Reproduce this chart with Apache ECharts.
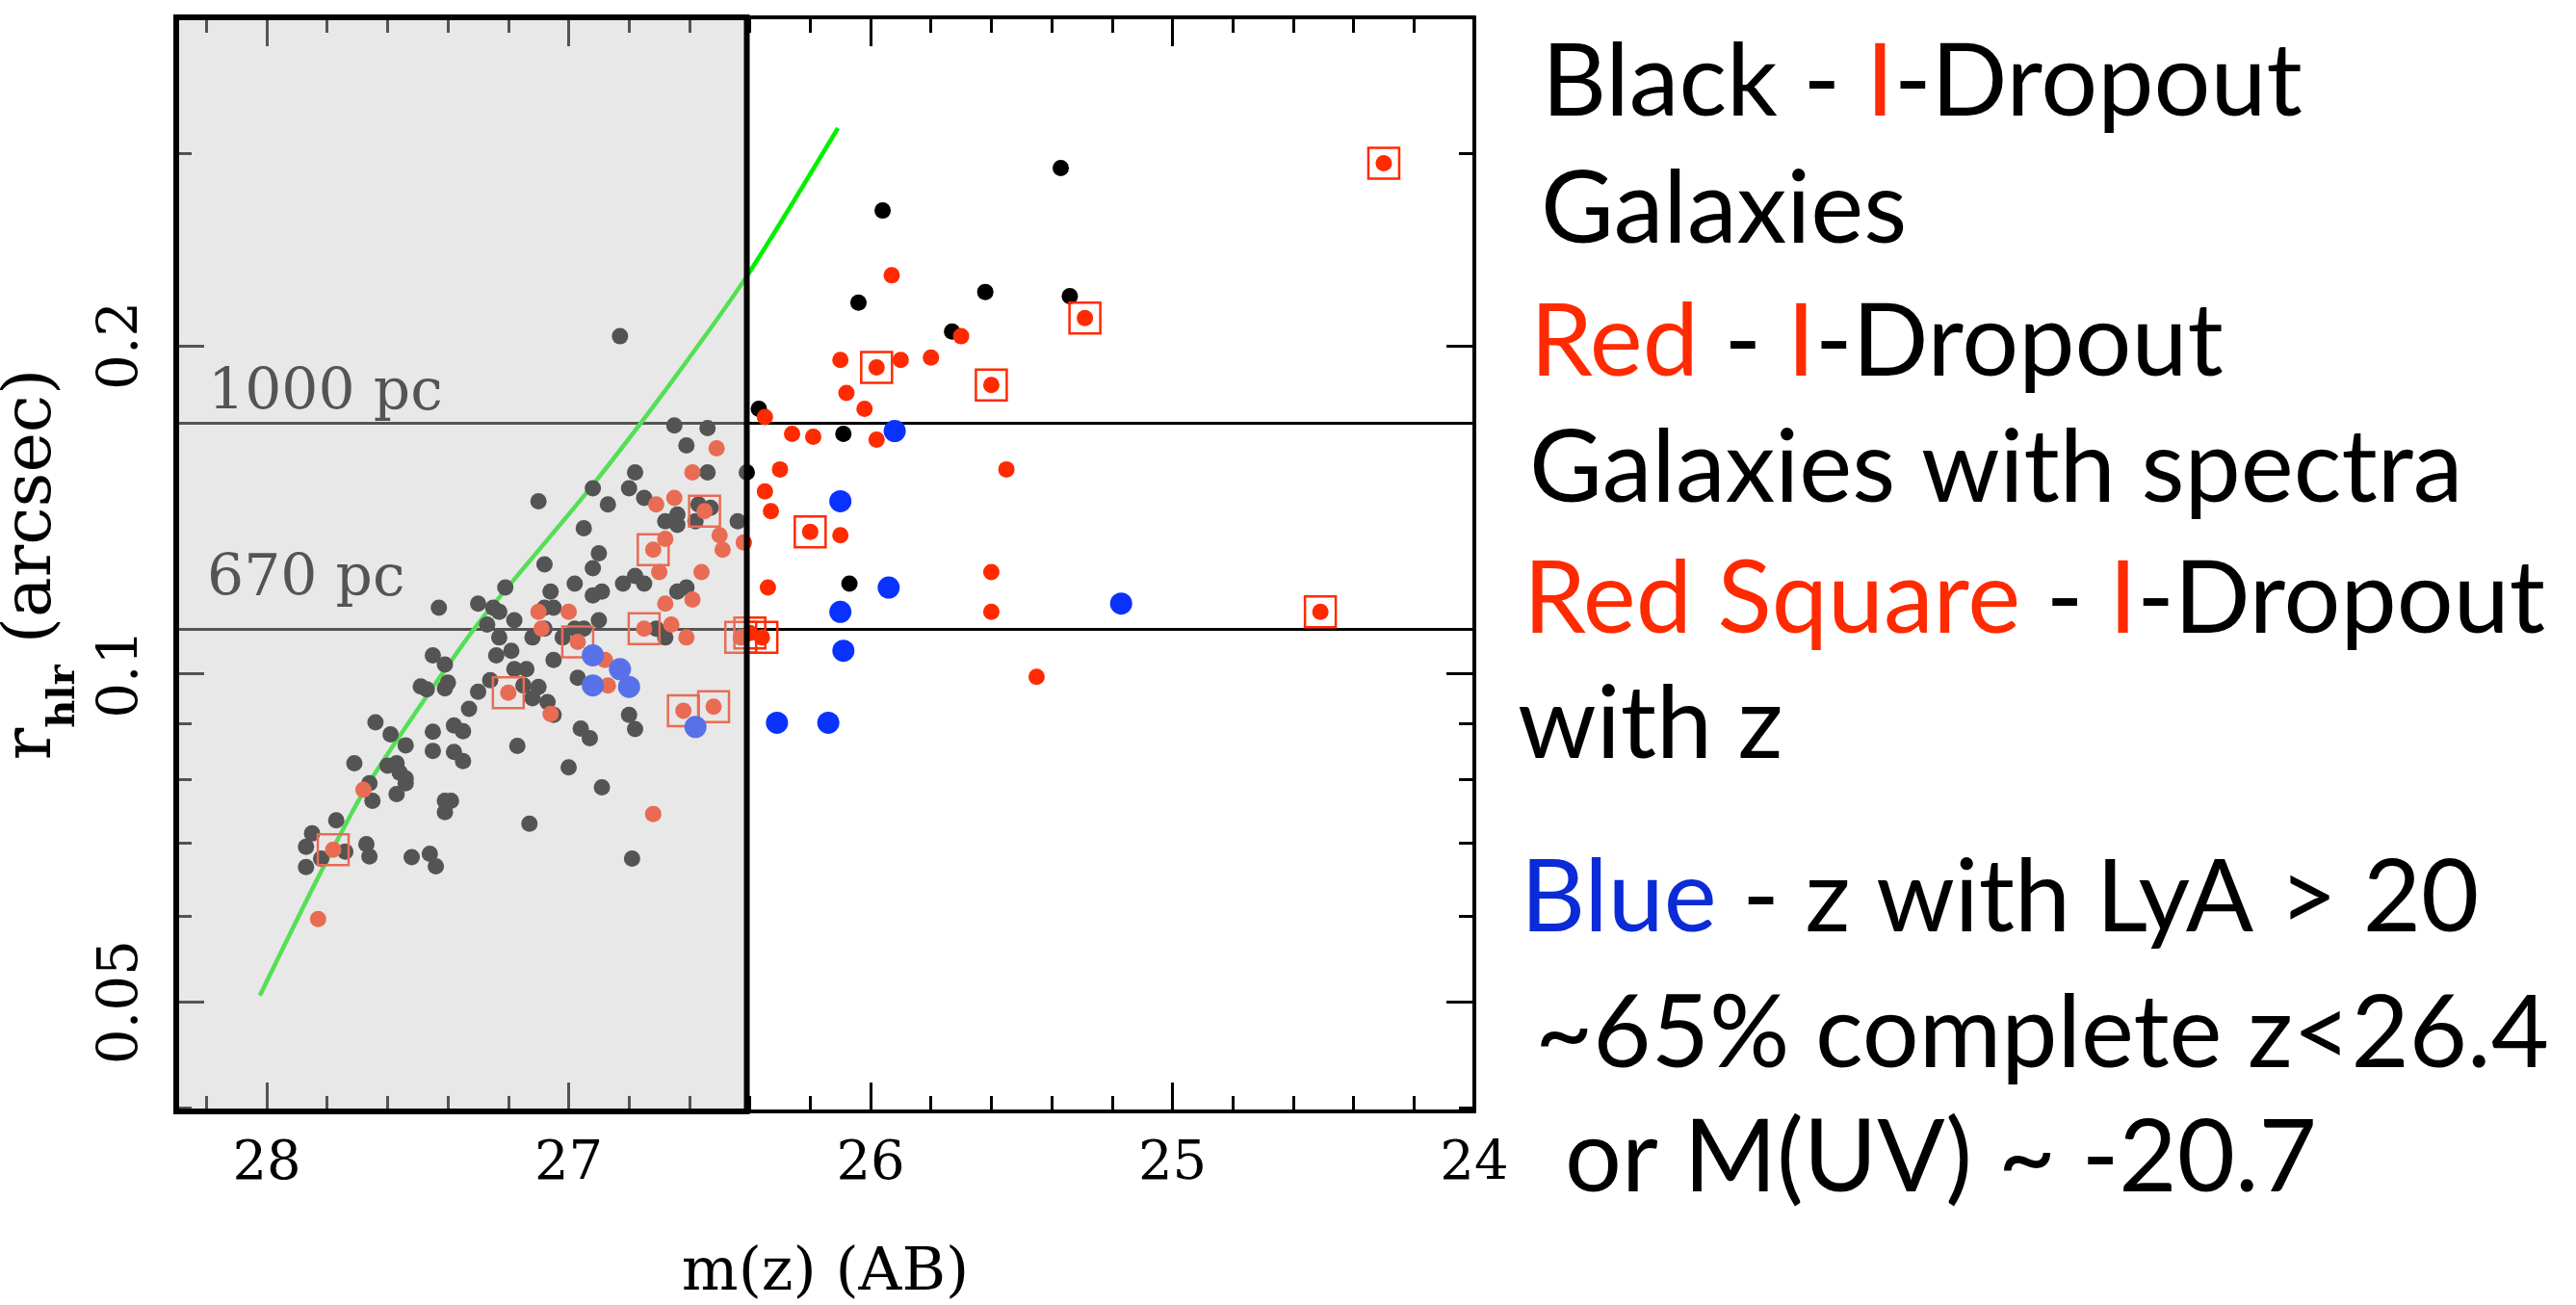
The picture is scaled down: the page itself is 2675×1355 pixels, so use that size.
<!DOCTYPE html>
<html>
<head>
<meta charset="utf-8">
<script src="https://cdn.jsdelivr.net/npm/echarts@6/dist/echarts.min.js"></script>
<style>
html,body{margin:0;padding:0;background:#fff;}
#chart{width:2675px;height:1355px;}
</style>
</head>
<body>
<div id="chart"></div>
<script>
// ---------------- data ----------------
const xMajorTicks = [24, 25, 26, 27, 28];
const xMinorTicks = [24.2, 24.4, 24.6, 24.8, 25.2, 25.4, 25.6, 25.8, 26.2, 26.4, 26.6, 26.8, 27.2, 27.4, 27.6, 27.8, 28.2];
const yMajorTicks = [0.05, 0.1, 0.2];
const yMinorTicks = [0.04, 0.06, 0.07, 0.08, 0.09, 0.3];
const xRange = [24, 28.3];
const yRange = [0.0397, 0.4];

// m(z), r_hlr  -- I-dropouts (black)
const blackPts = [
  [26.65,0.169],[26.54,0.168],[26.61,0.162],[26.78,0.153],[26.54,0.153],[26.41,0.153],[26.92,0.148],[26.80,0.148],
  [27.10,0.144],[26.75,0.145],[26.87,0.143],[26.57,0.143],[26.53,0.142],[26.64,0.140],[26.68,0.138],[26.64,0.137],
  [26.58,0.138],[26.44,0.138],[26.95,0.136],[26.90,0.129],[26.92,0.125],[27.08,0.126],[26.78,0.123],[26.75,0.121],
  [26.82,0.121],[26.98,0.121],[26.92,0.118],[26.89,0.119],[27.06,0.119],[27.21,0.120],[26.61,0.120],[26.64,0.119],
  [27.30,0.116],[27.25,0.115],[27.23,0.114],[27.05,0.115],[27.08,0.115],[27.18,0.112],[27.27,0.111],[26.90,0.112],
  [26.95,0.110],[26.98,0.110],[26.71,0.110],[26.68,0.108],[27.08,0.110],[27.23,0.108],[27.12,0.108],[27.02,0.108],
  [27.19,0.105],[27.24,0.104],[27.05,0.103],[27.18,0.101],[27.14,0.101],[27.26,0.0987],[26.97,0.0992],[27.30,0.0963],
  [27.10,0.0973],[27.15,0.0976],
  [27.43,0.115],[27.45,0.104],[27.41,0.102],[27.49,0.0974],[27.47,0.0968],[27.41,0.0970],[27.40,0.0982],
  [27.33,0.0929],[27.12,0.0950],[27.07,0.0942],[27.05,0.0917],[26.80,0.0917],[26.78,0.0890],[26.96,0.0891],[26.93,0.0873],
  [27.35,0.0886],[27.17,0.0859],[27.35,0.0832],[27.00,0.0821],[26.89,0.0787],[27.13,0.0729],[26.79,0.0677],
  [27.64,0.0903],[27.59,0.0880],[27.54,0.0860],[27.45,0.0885],[27.38,0.0897],[27.45,0.0850],[27.38,0.0848],[27.71,0.0828],
  [27.60,0.0824],[27.57,0.0828],[27.56,0.0812],[27.54,0.0802],[27.54,0.0794],[27.66,0.0794],[27.65,0.0765],[27.57,0.0776],
  [27.41,0.0765],[27.39,0.0765],[27.41,0.0747],[27.77,0.0734],[27.85,0.0714],[27.87,0.0694],[27.74,0.0687],[27.82,0.0677],
  [27.87,0.0665],[27.67,0.0698],[27.66,0.0680],[27.52,0.0679],[27.46,0.0684],[27.44,0.0666],
  [26.83,0.204],
  [25.37,0.291],[25.96,0.266],[26.04,0.219],[25.62,0.224],[25.34,0.222],[25.73,0.206],[26.37,0.175],[26.09,0.166],[26.07,0.121]
];

// I-dropouts with spectra (red)
const redPts = [
  [26.51,0.161],[26.59,0.153],[26.71,0.143],[26.65,0.145],[26.68,0.133],[26.50,0.134],[26.49,0.130],[26.42,0.132],
  [26.70,0.124],[26.56,0.124],[26.68,0.116],[26.59,0.117],[27.10,0.114],[27.00,0.114],[27.09,0.110],[26.66,0.111],
  [26.61,0.108],[26.88,0.103],[26.87,0.0976],[27.06,0.0919],[26.72,0.0744],[27.68,0.0783],[27.83,0.0596],
  [25.93,0.232],[25.70,0.204],[26.10,0.194],[25.90,0.194],[25.80,0.195],[26.08,0.181],[26.02,0.175],[26.35,0.172],
  [26.26,0.166],[26.19,0.165],[25.98,0.164],[26.30,0.154],[25.55,0.154],[26.35,0.147],[26.33,0.141],[26.10,0.134],
  [26.34,0.120],[25.60,0.124],[25.60,0.114],[25.45,0.0994]
];

// I-dropouts with z (red square)
const redSquarePts = [
  [25.29,0.212],[25.98,0.191],[25.60,0.184],[26.20,0.135],[24.30,0.294],[24.51,0.114],[26.36,0.108],[26.40,0.109],
  [26.55,0.141],[26.72,0.130],[26.75,0.110],[26.97,0.107],[27.20,0.0961],[26.62,0.0925],[26.52,0.0933],[27.78,0.0690],[26.43,0.108]
];

// z with LyA > 20 (blue)
const bluePts = [
  [26.92,0.104],[26.83,0.101],[26.92,0.0976],[26.80,0.0973],[26.58,0.0894],
  [25.92,0.167],[26.10,0.144],[25.94,0.120],[26.10,0.114],[26.09,0.105],[25.17,0.116],[26.31,0.0902],[26.14,0.0902]
];

// green size relation curve
const sizeCurve = [
  [28.023,0.0507],[27.832,0.0649],[27.672,0.0786],[27.459,0.0964],[27.289,0.1122],
  [26.928,0.1481],[26.667,0.1840],[26.408,0.2320],[26.108,0.3166]
];

const refLineValues = [0.17, 0.11];
const refLineLabels = ['1000 pc', '670 pc'];
const completeLimit = 26.41;

const legendTexts = [
  'Black - {red|I}-Dropout',
  'Galaxies',
  '{red|Red} - {red|I}-Dropout',
  'Galaxies with spectra',
  '{red|Red Square} - {red|I}-Dropout',
  'with z',
  '{blue|Blue} - z with LyA > 20',
  '~65% complete z<26.4',
  'or M(UV) ~ -20.7'
];

// ---------------- layout / style ----------------
const legendPos = [[1601,86],[1600,218],[1589,356],[1588,487],[1582,623],[1576,753],[1579,933],[1594,1074],[1625,1203]];
const refLabelPos = [[216,409],[215,602]];
const AX_FONT = 'DejaVu Serif';
const RED = '#ff2a00', BLUE = '#0a32ff', TXT_BLUE = '#0b2bd6';

const chart = echarts.init(document.getElementById('chart'), null, {renderer: 'canvas', width: 2675, height: 1355});

function xAxisDef(pos, ticks, len, showLabel, extra) {
  return Object.assign({
    type: 'value', position: pos, inverse: true, min: xRange[0], max: xRange[1],
    axisLine: {show: true, onZero: false, lineStyle: {color: '#000', width: 4}},
    axisTick: {show: true, inside: true, length: len, customValues: ticks, lineStyle: {color: '#000', width: 3}},
    axisLabel: {show: showLabel, customValues: ticks, margin: 27, color: '#000', fontFamily: AX_FONT, fontSize: 56,
      formatter: v => String(Math.round(v))},
    splitLine: {show: false}, minorTick: {show: false}
  }, extra || {});
}
function yAxisDef(pos, ticks, len, showLabel, extra) {
  return Object.assign({
    type: 'log', logBase: 10, position: pos, min: yRange[0], max: yRange[1],
    axisLine: {show: true, onZero: false, lineStyle: {color: '#000', width: 4}},
    axisTick: {show: true, inside: true, length: len, customValues: ticks, lineStyle: {color: '#000', width: 3}},
    axisLabel: {show: showLabel, customValues: ticks, rotate: 90, margin: 27, color: '#000', fontFamily: AX_FONT, fontSize: 58,
      formatter: v => String(+(+v).toPrecision(3))},
    splitLine: {show: false}, minorTick: {show: false}
  }, extra || {});
}

const option = {
  animation: false,
  backgroundColor: '#ffffff',
  grid: {left: 183, right: 1144, top: 18, bottom: 201, containLabel: false, outerBoundsMode: 'none'},
  xAxis: [
    xAxisDef('bottom', xMajorTicks, 30, true, {
      name: 'm(z) (AB)', nameLocation: 'middle', nameGap: 138, nameMoveOverlap: false,
      nameTextStyle: {color: '#000', fontFamily: AX_FONT, fontSize: 62}
    }),
    xAxisDef('bottom', xMinorTicks, 16, false),
    xAxisDef('top', xMajorTicks, 30, false),
    xAxisDef('top', xMinorTicks, 16, false)
  ],
  yAxis: [
    yAxisDef('left', yMajorTicks, 29, true, {
      name: '{r|r}{s|hlr}{t| (arcsec)}', nameLocation: 'middle', nameRotate: 90, nameGap: 96, nameMoveOverlap: false,
      nameTextStyle: {color: '#000', fontFamily: AX_FONT, fontSize: 70, rich: {
        r: {color: '#000', fontFamily: AX_FONT, fontSize: 70, lineHeight: 88, verticalAlign: 'top'},
        s: {color: '#000', fontFamily: AX_FONT, fontSize: 40, fontWeight: 'bold', lineHeight: 28, verticalAlign: 'bottom'},
        t: {color: '#000', fontFamily: AX_FONT, fontSize: 70, lineHeight: 88, verticalAlign: 'top'}
      }}
    }),
    yAxisDef('left', yMinorTicks, 16, false),
    yAxisDef('right', yMajorTicks, 29, false),
    yAxisDef('right', yMinorTicks, 16, false)
  ],
  graphic: {elements: [
    ...refLineLabels.map((t, i) => ({
      type: 'text', x: refLabelPos[i][0], y: refLabelPos[i][1], z: 1, silent: true,
      style: {text: t, fill: '#000', fontFamily: AX_FONT, fontSize: 60, verticalAlign: 'middle', align: 'left'}
    })),
    ...legendTexts.map((t, i) => ({
      type: 'text', x: legendPos[i][0], y: legendPos[i][1], z: 20, silent: true,
      style: {text: t, fill: '#000', fontFamily: 'Lato', fontSize: 104, verticalAlign: 'middle', align: 'left',
        rich: {red: {fill: RED}, blue: {fill: TXT_BLUE}}}
    }))
  ]},
  series: [
    {
      name: 'refLines', type: 'line', data: [], z: 1, silent: true,
      markLine: {
        silent: true, symbol: ['none', 'none'], animation: false, z: 2,
        label: {show: false},
        lineStyle: {color: '#000', width: 3, type: 'solid'},
        emphasis: {disabled: true},
        data: refLineValues.map(v => ({yAxis: v}))
      }
    },
    {
      name: 'curve', type: 'line', data: sizeCurve, smooth: 0.25, showSymbol: false, z: 3, silent: true,
      lineStyle: {color: '#00f000', width: 4.5}
    },
    {name: 'black', type: 'scatter', data: blackPts, symbolSize: 17, z: 4, silent: true,
      itemStyle: {color: '#000', opacity: 1}},
    {name: 'red', type: 'scatter', data: redPts, symbolSize: 17, z: 5, silent: true,
      itemStyle: {color: RED, opacity: 1}},
    {name: 'redSqDot', type: 'scatter', data: redSquarePts, symbolSize: 17, z: 6, silent: true,
      itemStyle: {color: RED, opacity: 1}},
    {name: 'redSq', type: 'scatter', data: redSquarePts, symbol: 'rect', symbolSize: 32, z: 6, silent: true,
      itemStyle: {color: 'rgba(0,0,0,0)', borderColor: RED, borderWidth: 2.5, opacity: 1}},
    {name: 'blue', type: 'scatter', data: bluePts, symbolSize: 23, z: 7, silent: true,
      itemStyle: {color: BLUE, opacity: 1}},
    {
      name: 'shade', type: 'line', data: [], z: 10, silent: true,
      markArea: {
        silent: true, animation: false, z: 10,
        itemStyle: {color: 'rgba(200,200,200,0.42)', borderColor: '#000', borderWidth: 6},
        label: {show: false},
        emphasis: {disabled: true},
        data: [[{xAxis: xRange[1], yAxis: yRange[0]}, {xAxis: completeLimit, yAxis: yRange[1]}]]
      }
    }
  ]
};
chart.setOption(option);
</script>
</body>
</html>
